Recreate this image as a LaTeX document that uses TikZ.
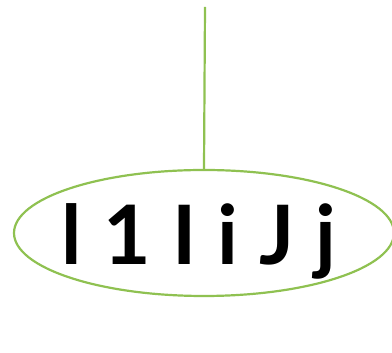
\documentclass[tikz,border=0pt]{standalone}
\usepackage{fontspec}
\setmainfont{Lato}
\newfontfamily\wordfont[LetterSpace=26]{Lato}
\usetikzlibrary{shapes.geometric}
\definecolor{LeafGreen}{HTML}{8FC151}

\begin{document}
\begin{tikzpicture}[x=1pt,y=1pt]
    \useasboundingbox (0,0) rectangle (392,353);
    \coordinate (top) at (205,346);
    \node[ellipse,draw=LeafGreen,line width=2.2pt,minimum width=380pt,minimum height=126pt,inner sep=0pt] (rim) at (204,120) {};
    \node[anchor=base,inner sep=0pt,font=\wordfont\bfseries\fontsize{82}{90}\selectfont] (word) at (199,88) {l1IiJj};
    \draw[LeafGreen,line width=2.2pt] (top)--(rim.north);
  \end{tikzpicture}
\end{document}
